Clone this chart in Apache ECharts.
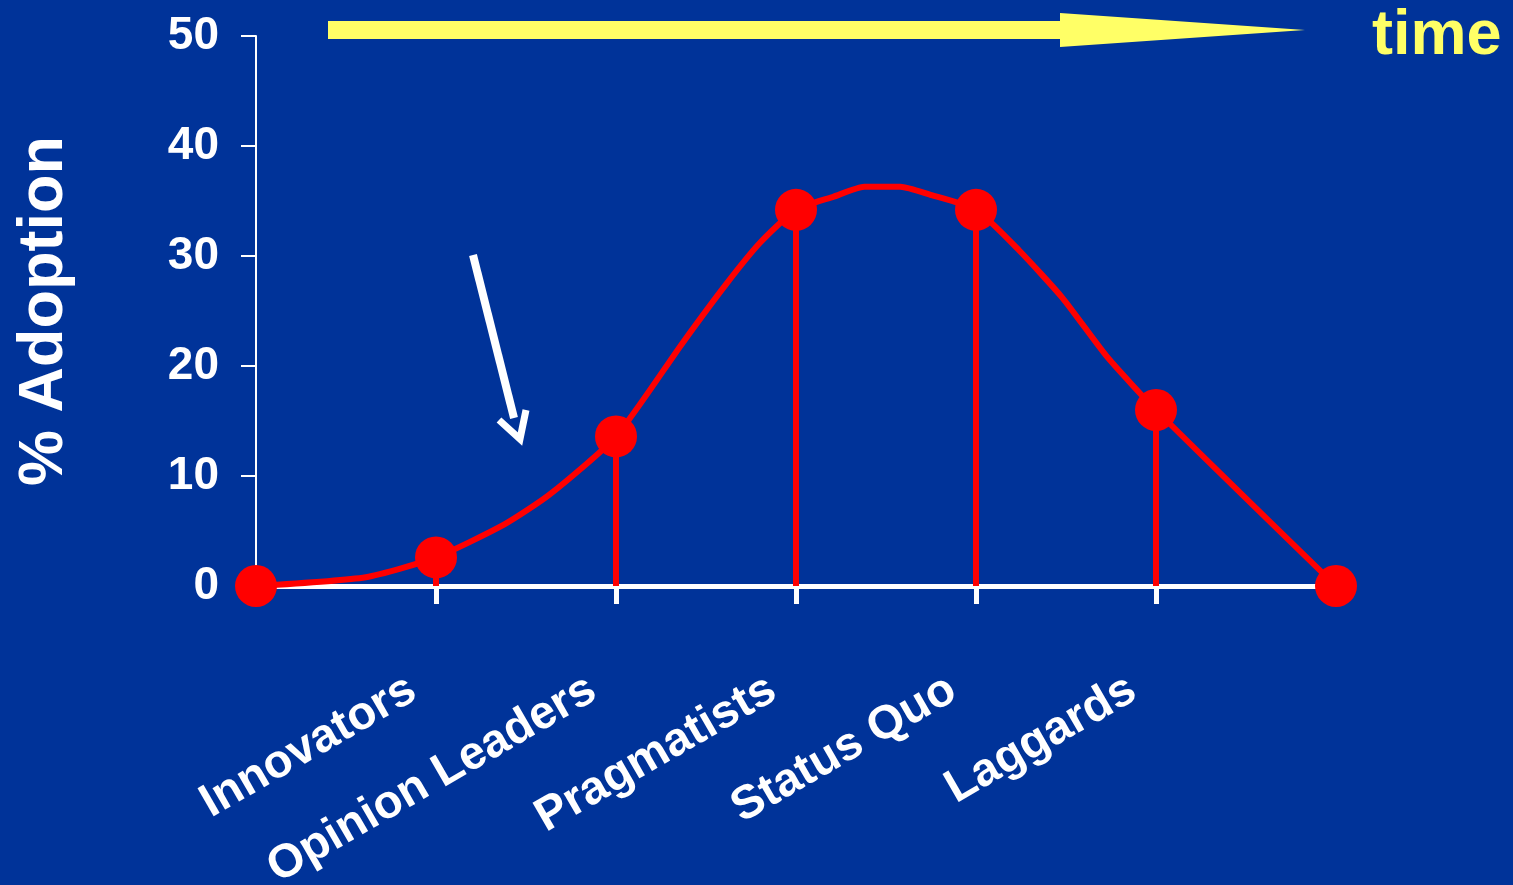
<!DOCTYPE html>
<html>
<head>
<meta charset="utf-8">
<title>% Adoption over time</title>
<script src="https://cdn.jsdelivr.net/npm/echarts@6/dist/echarts.min.js"></script>
<style>
  html, body { margin: 0; padding: 0; background: #003399; }
  #chart { width: 1513px; height: 885px; }
</style>
</head>
<body>
<div id="chart"></div>
<script>
// Adopter groups along the time axis (blank at both ends of the curve)
const categories = ['', 'Innovators', 'Opinion Leaders', 'Pragmatists', 'Status Quo', 'Laggards', ''];

// % adoption at each group boundary (the marked points)
const markerValues = [0, 2.6, 13.6, 34.2, 34.2, 16.0, 0];

// Traced adoption curve: positions along the time axis and % adoption
const curveX = [0, 0.61, 1, 1.38, 1.63, 2, 2.37, 2.61, 2.8, 3, 3.21, 3.38, 3.58, 3.74, 4, 4.24, 4.48, 4.73, 5, 6];
const curveY = [0, 0.8, 2.6, 5.6, 8.3, 13.6, 22.1, 27.4, 31.2, 34.2, 35.4, 36.3, 36.3, 35.6, 34.2, 30.5, 26.2, 20.8, 16.0, 0];

// Y axis ticks
const yTicks = [0, 10, 20, 30, 40, 50];

const FONT = '"Liberation Sans", Arial, sans-serif';
const RED = '#ff0000';
const YELLOW = '#ffff66';

const chart = echarts.init(document.getElementById('chart'), null, { renderer: 'canvas' });

const curveData = curveX.map((x, i) => [x, curveY[i]]);
const markerData = markerValues.map((v, i) => [i, v]);
const dropLines = markerValues
  .map((v, i) => ({ v, i }))
  .filter(d => d.v > 0)
  .map(d => [{ coord: [d.i, d.v] }, { coord: [d.i, 0] }]);

chart.setOption({
  backgroundColor: '#003399',
  animation: false,
  grid: { left: 256, right: 177, top: 36, bottom: 299, containLabel: false, outerBoundsMode: 'none' },
  xAxis: {
    type: 'value',
    min: 0,
    max: categories.length - 1,
    interval: 1,
    axisLine: { show: true, lineStyle: { color: '#ffffff', width: 5 } },
    axisTick: { show: true, length: 18, lineStyle: { color: '#ffffff', width: 5 } },
    splitLine: { show: false },
    axisLabel: {
      rotate: 30,
      margin: 87,
      padding: [0, 27, 0, 0],
      color: '#ffffff',
      fontFamily: FONT,
      fontWeight: 'bold',
      fontSize: 47,
      formatter: v => categories[Math.round(v)] || ''
    }
  },
  yAxis: {
    type: 'value',
    min: yTicks[0],
    max: yTicks[yTicks.length - 1],
    interval: 10,
    name: '% Adoption',
    nameLocation: 'middle',
    nameRotate: 90,
    nameGap: 180,
    nameMoveOverlap: false,
    nameTextStyle: { color: '#ffffff', fontFamily: FONT, fontWeight: 'bold', fontSize: 63 },
    axisLine: { show: true, lineStyle: { color: '#ffffff', width: 2 } },
    axisTick: { show: true, length: 15, lineStyle: { color: '#ffffff', width: 2 } },
    splitLine: { show: false },
    axisLabel: {
      margin: 37,
      color: '#ffffff',
      fontFamily: FONT,
      fontWeight: 'bold',
      fontSize: 46
    }
  },
  series: [
    {
      type: 'line',
      data: curveData,
      smooth: 0.2,
      showSymbol: false,
      lineStyle: { color: RED, width: 6 },
      z: 3
    },
    {
      type: 'scatter',
      data: markerData,
      symbol: 'circle',
      symbolSize: 42,
      itemStyle: { color: RED, opacity: 1 },
      z: 5,
      markLine: {
        silent: true,
        symbol: 'none',
        label: { show: false },
        lineStyle: { color: RED, width: 6, type: 'solid', opacity: 1 },
        data: dropLines,
        z: 4
      }
    }
  ],
  graphic: [
    {
      // time arrow along the top
      type: 'polygon',
      shape: { points: [[328, 21], [1060, 21], [1060, 13], [1305, 30], [1060, 47], [1060, 39], [328, 39]] },
      style: { fill: YELLOW }
    },
    {
      type: 'text',
      x: 1372,
      y: 37,
      style: { text: 'time', fill: YELLOW, font: 'bold 63px ' + FONT, verticalAlign: 'middle', align: 'left' }
    },
    {
      // pointer arrow toward the early part of the curve
      type: 'line',
      shape: { x1: 473, y1: 255, x2: 514, y2: 418 },
      style: { stroke: '#ffffff', lineWidth: 8 }
    },
    {
      type: 'polyline',
      shape: { points: [[499, 420], [520, 439], [526, 410]] },
      style: { stroke: '#ffffff', lineWidth: 7, fill: null }
    }
  ]
});
</script>
</body>
</html>
